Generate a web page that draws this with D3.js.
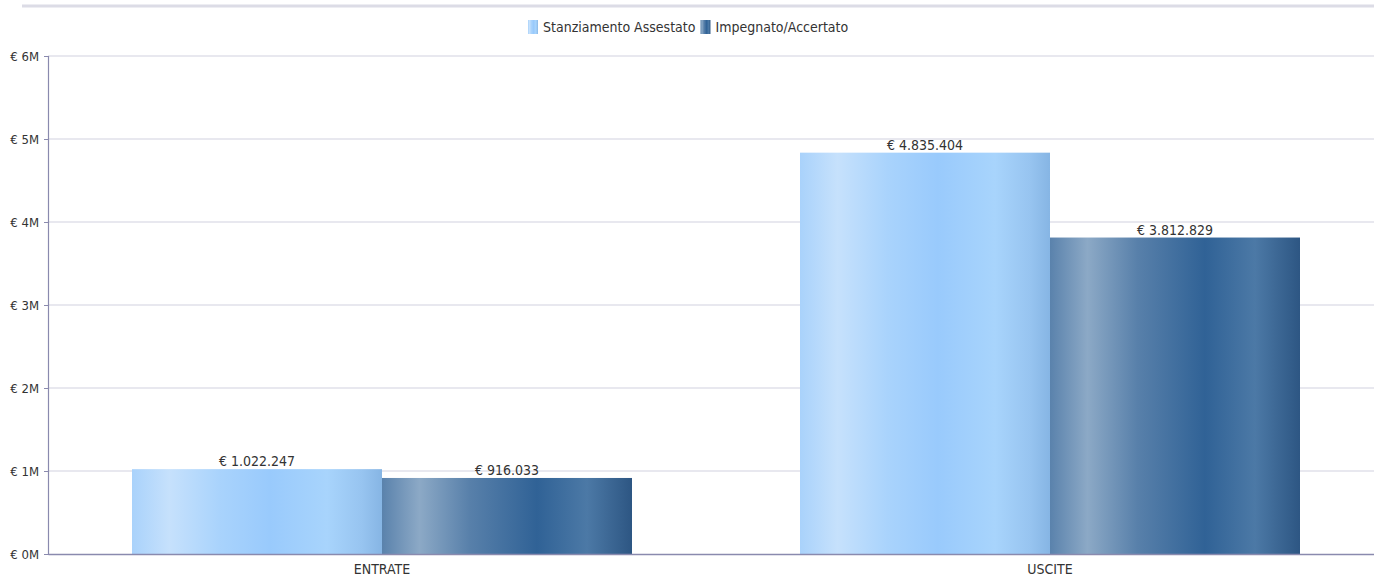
<!DOCTYPE html>
<html><head><meta charset="utf-8">
<script src="https://cdn.jsdelivr.net/npm/d3@7"></script>
<style>
html,body{margin:0;padding:0;background:#fff;}
svg text{font-family:"DejaVu Sans Condensed","DejaVu Sans",sans-serif;fill:#333;}
</style></head><body>
<svg id="c" width="1374" height="577"></svg>
<script>
const categories = ["ENTRATE", "USCITE"];
const seriesNames = ["Stanziamento Assestato", "Impegnato/Accertato"];
const stanziamento = [1022247, 4835404];
const impegnato = [916033, 3812829];
const yTicks = [0, 1, 2, 3, 4, 5, 6];

const svg = d3.select("#c");
const W = 1374, H = 577;
const m = {left: 48, top: 56, bottom: 23};
const plotRight = 1384;
const FF = '"DejaVu Sans Condensed","DejaVu Sans",sans-serif';

const defs = svg.append("defs");
function grad(id, stops){
  const g = defs.append("linearGradient").attr("id", id).attr("x1","0%").attr("x2","100%").attr("y1","0%").attr("y2","0%");
  stops.forEach(s => g.append("stop").attr("offset", s[0]).attr("stop-color", s[1]));
}
grad("gLight", [["0%","#a9d2fb"],["15%","#c6e1fc"],["35%","#a9d3fc"],["55%","#99cafc"],["78%","#a8d4fc"],["92%","#97c4f0"],["100%","#86b5e4"]]);
grad("gDark", [["0%","#5a82ac"],["15%","#8ca9c6"],["35%","#5880aa"],["62%","#306296"],["82%","#4c79a6"],["100%","#2d5683"]]);

// top rule
svg.append("line").attr("x1",22).attr("x2",W).attr("y1",6).attr("y2",6).attr("stroke","#dcdce6").attr("stroke-width",3);

const y = d3.scaleLinear().domain([0, 6e6]).range([H - m.bottom, m.top]);
const x0 = d3.scaleBand().domain(categories).range([m.left, plotRight]).paddingInner(0).paddingOuter(0);
const x1 = d3.scaleBand().domain(seriesNames).range([84, x0.bandwidth() - 84]);

// grid
svg.append("g").selectAll("line").data(yTicks.slice(1)).join("line")
  .attr("x1", m.left).attr("x2", W).attr("y1", d => y(d*1e6)).attr("y2", d => y(d*1e6))
  .attr("stroke", "#e0e0ea").attr("stroke-width", 1.5);

// y axis
const yAxis = d3.axisLeft(y).tickValues(yTicks.map(d => d*1e6)).tickFormat(d => "€ " + (d/1e6) + "M").tickSize(4).tickPadding(5);
const ga = svg.append("g").attr("transform", `translate(${m.left},0)`).call(yAxis);
ga.select(".domain").attr("stroke", "#8a8aae").attr("stroke-width", 1.2);
ga.selectAll(".tick line").attr("stroke", "#8a8aae");
ga.selectAll("text").attr("font-size", 13).attr("fill", "#333").style("font-family", FF);

// bars
const data = categories.map((c,i) => ({cat:c, vals:[stanziamento[i], impegnato[i]]}));
const grads = ["url(#gLight)", "url(#gDark)"];
const groups = svg.append("g").selectAll("g").data(data).join("g").attr("transform", d => `translate(${x0(d.cat)},0)`);
groups.selectAll("rect").data(d => d.vals.map((v,j) => ({v, s: seriesNames[j], j}))).join("rect")
  .attr("x", d => x1(d.s)).attr("width", x1.bandwidth())
  .attr("y", d => y(d.v)).attr("height", d => y(0) - y(d.v))
  .attr("fill", d => grads[d.j]);
const fmt = v => "€ " + d3.format(",")(v).replace(/,/g, ".");
groups.selectAll("text.lbl").data(d => d.vals.map((v,j) => ({v, s: seriesNames[j]}))).join("text")
  .attr("class","lbl").attr("x", d => x1(d.s) + x1.bandwidth()/2).attr("y", d => y(d.v) - 3)
  .attr("text-anchor","middle").attr("font-size", 14).text(d => fmt(d.v));

// x axis
const xa = svg.append("g").attr("transform", `translate(0,${y(0)})`).call(d3.axisBottom(x0).tickSize(0).tickPadding(10));
xa.select(".domain").attr("stroke", "#8a8aae").attr("stroke-width", 1.5);
xa.selectAll("text").attr("font-size", 14).attr("fill", "#333").style("font-family", FF);

// legend
const legend = svg.append("g").attr("transform", "translate(528,20)");
let lx = 0;
seriesNames.forEach((n,i) => {
  legend.append("rect").attr("x", lx).attr("y", 0).attr("width", 10).attr("height", 14).attr("fill", grads[i]);
  const t = legend.append("text").attr("x", lx + 15).attr("y", 12).attr("font-size", 14).text(n);
  lx += 15 + t.node().getComputedTextLength() + 5;
});
</script>
</body></html>
